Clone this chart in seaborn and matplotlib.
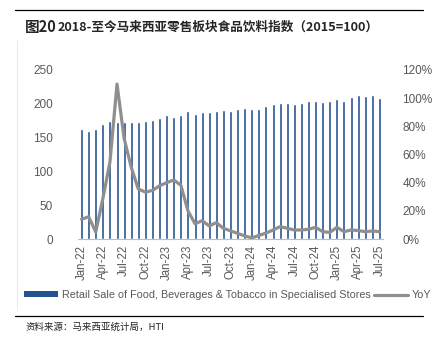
import numpy as np
import pandas as pd
import matplotlib
matplotlib.use("Agg")
import matplotlib.pyplot as plt
from matplotlib.lines import Line2D
from matplotlib.patches import Patch
import seaborn as sns

months = pd.date_range("2022-01-01", "2025-07-01", freq="MS").strftime("%b-%y").tolist()
index_values = [162, 160, 162, 170, 174.5, 172.6, 173, 173, 173, 174.5, 176.5, 179.5,
                183.4, 181, 183, 189, 185, 188, 188, 190, 191, 189, 192, 194,
                192, 193, 197, 200, 200.7, 201, 199, 201.7, 203.6, 204.6, 202, 203.6,
                207, 203.6, 210, 213, 211, 213, 209]
yoy_values = [14, 15.8, 5, 28.5, 54.5, 110, 71.5, 51, 35.5, 33.3, 34.5, 37.8, 40,
              41.9, 38.2, 20, 10.8, 13, 9.3, 11.6, 7.6, 5.8, 4, 2.2,
              0.8, 2.5, 4.2, 6.4, 8.8, 7.6, 6.4, 6.4, 6.9, 8.3, 5.2, 4.7,
              8.3, 5.2, 6.4, 6, 5.2, 5.7, 5.2]
bar_label = "Retail Sale of Food, Beverages & Tobacco in Specialised Stores"
line_label = "YoY"
title_text = "2018-至今马来西亚零售板块食品饮料指数（2015=100）"
source_text = "资料来源：马来西亚统计局，HTI"

df = pd.DataFrame({"month": months, "index": index_values, "yoy": yoy_values,
                   "pos": np.arange(len(months))})

sns.set_theme(style="white")
plt.rcParams["font.family"] = ["Liberation Sans", "Noto Sans CJK SC", "DejaVu Sans"]

BAR = "#24528F"
LINE = "#8F8F8F"
TXT = "#595959"

fig = plt.figure(figsize=(4.34, 3.39), dpi=100)
ax = fig.add_axes([78 / 434, 1 - 239 / 339, (383 - 78) / 434, (239 - 70) / 339])

sns.barplot(data=df, x="month", y="index", color=BAR, width=0.42, ax=ax,
            saturation=1, order=months)
ax.set_xlim(-0.5, len(months) - 0.5)
ax.set_ylim(0, 250)
ax.set_yticks([0, 50, 100, 150, 200, 250])
ax.set_xlabel("")
ax.set_ylabel("")
ax.set_xticks(np.arange(0, len(months), 3))
ax.set_xticklabels(months[::3], rotation=90)
ax.set_xticks(np.arange(-0.5, len(months), 3), minor=True)
ax.tick_params(axis="x", which="major", length=0, pad=4, labelsize=8.3, labelcolor=TXT)
ax.tick_params(axis="x", which="minor", length=4, width=0.8, color="#BFBFBF", direction="out")
ax.tick_params(axis="y", length=0, labelsize=8.5, labelcolor=TXT, pad=18)
for s in ["top", "right", "left"]:
    ax.spines[s].set_visible(False)
ax.spines["bottom"].set_color("#BFBFBF")
ax.spines["bottom"].set_linewidth(0.8)

ax2 = ax.twinx()
sns.lineplot(data=df, x="pos", y="yoy", color=LINE, linewidth=2.3, ax=ax2)
ax2.set_ylim(0, 120)
ax2.set_yticks([0, 20, 40, 60, 80, 100, 120])
ax2.set_yticklabels([f"{v}%" for v in [0, 20, 40, 60, 80, 100, 120]])
ax2.set_ylabel("")
ax2.set_xlabel("")
ax2.tick_params(axis="y", length=0, labelsize=8.5, labelcolor=TXT, pad=14)
for s in ["top", "right", "left", "bottom"]:
    ax2.spines[s].set_visible(False)
ax2.set_xlim(-0.5, len(months) - 0.5)

# legend
handles = [Patch(facecolor=BAR, edgecolor="none"),
           Line2D([0], [0], color=LINE, linewidth=2.3)]
fig.legend(handles, [bar_label, line_label], loc="center left",
           bbox_to_anchor=(24 / 434, 1 - 295 / 339), ncol=2, frameon=False,
           fontsize=7.75, labelcolor=TXT, handlelength=3.2, handleheight=0.45,
           handletextpad=0.3, columnspacing=0.3, borderaxespad=0, borderpad=0)

# title and rules
fig.add_artist(Line2D([15 / 434, 423 / 434], [1 - 10 / 339, 1 - 10 / 339], color="black", linewidth=0.9))
fig.text(25 / 434, 1 - 27 / 339, "图20", fontsize=10.5, fontweight="bold",
         family=["Noto Sans CJK SC", "DejaVu Sans"], va="center", ha="left")
fig.text(58 / 434, 1 - 27.5 / 339, title_text, fontsize=9.1, fontweight="bold",
         family=["Noto Sans CJK SC", "DejaVu Sans"], va="center", ha="left")
fig.add_artist(Line2D([17 / 434, 17 / 434], [1 - 40 / 339, 1 - 310 / 339], color="#E6E6E6", linewidth=0.6))
fig.add_artist(Line2D([15 / 434, 423 / 434], [1 - 316 / 339, 1 - 316 / 339], color="black", linewidth=0.9))
fig.text(25 / 434, 1 - 327 / 339, source_text, fontsize=6.8,
         family=["Noto Sans CJK SC", "DejaVu Sans"], va="center", ha="left", color="#222222")

fig.savefig("out.png", dpi=100)
